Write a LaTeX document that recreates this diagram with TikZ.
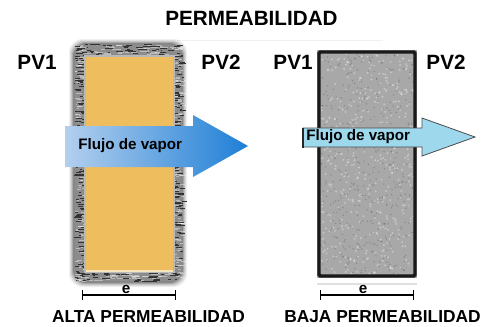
\documentclass[tikz,border=0pt]{standalone}
\usepackage{fontspec}
\setmainfont{Liberation Sans}
\usetikzlibrary{arrows.meta, positioning, calc}
\definecolor{slaborange}{HTML}{EEBE5E}
\definecolor{flowblue}{HTML}{1F7FD6}
\definecolor{flowlight}{HTML}{B3CFEE}
\definecolor{flowcyan}{HTML}{9ED8EC}
\definecolor{stonegray}{HTML}{A8A8A8}

\begin{document}
\begin{tikzpicture}[x=0.75pt, y=-0.75pt,
    bigtxt/.style={font=\bfseries\fontsize{15.5}{18}\selectfont, inner sep=0},
    subtxt/.style={font=\bfseries\fontsize{13}{15}\selectfont, inner sep=0},
    flowtxt/.style={font=\bfseries\fontsize{11.4}{13}\selectfont, inner sep=0},
    dimline/.style={line width=1.1pt, {Bar[width=7pt]}-{Bar[width=7pt]}}]
    \useasboundingbox (0,0) rectangle (484,326);
    \pgfmathsetseed{7}

    \node[bigtxt] (title) at (251.5,18) {PERMEABILIDAD};
    \draw[gray!12, line width=0.6pt] (177,40) -- (383,40);

    % left slab: fuzzy border and orange core
    \foreach \d/\o in {4/0.06, 3/0.08, 2/0.1, 1/0.14, 0/0.2}{
        \fill[black, opacity=\o, rounded corners=10] (73-\d,43-\d) rectangle (183+\d,283+\d);
    }
    \fill[black!45, rounded corners=8] (75,45) rectangle (181,281);
    \foreach \i in {1,...,130}{
        \draw[black!80, line width=0.6pt] ({74+9*rnd},{45+236*rnd}) -- ++({2+5*rnd},0);
        \draw[black!80, line width=0.6pt] ({172+9*rnd},{45+236*rnd}) -- ++({2+5*rnd},0);
        \draw[white, opacity=0.4, line width=0.5pt] ({75+9*rnd},{45+236*rnd}) -- ++({2+4*rnd},0);
        \draw[white, opacity=0.4, line width=0.5pt] ({173+8*rnd},{45+236*rnd}) -- ++({2+4*rnd},0);
    }
    \foreach \i in {1,...,45}{
        \draw[black!80, line width=0.6pt] ({76+100*rnd},{44+12*rnd}) -- ++({3+6*rnd},0);
        \draw[black!80, line width=0.6pt] ({76+100*rnd},{271+11*rnd}) -- ++({3+6*rnd},0);
        \draw[white, opacity=0.4, line width=0.5pt] ({76+100*rnd},{45+11*rnd}) -- ++({3+6*rnd},0);
        \draw[white, opacity=0.4, line width=0.5pt] ({76+100*rnd},{272+9*rnd}) -- ++({3+6*rnd},0);
    }
    \fill[gray!55] (84,55) rectangle (175,273);
    \fill[slaborange] (86,57) rectangle (173,271);
    \draw[white!60!slaborange, line width=0.8pt] (86,271) -- (173,271);

    % left flow arrow
    \shade[left color=flowlight, right color=flowblue]
        (65,126) -- (193,126) -- (193,115) -- (248,146) -- (193,177) -- (193,167) -- (65,167) -- cycle;
    \node[flowtxt, anchor=west] (flowA) at (78,146) {Flujo de vapor};

    \node[bigtxt] (pv1A) at (37,62) {PV1};
    \node[bigtxt] (pv2A) at (221,62) {PV2};

    \coordinate (eA1) at (82,295);
    \coordinate (eA2) at (176,295);
    \draw[dimline] (eA1) -- (eA2);
    \node[flowtxt, anchor=base] (eA) at (126,293) {e};
    \node[subtxt, anchor=base] (altaA) at (148.5,322) {ALTA PERMEABILIDAD};

    % right slab: stone texture and black frame
    \fill[stonegray] (317,50) rectangle (417,278);
    \foreach \i in {1,...,450}{
        \fill[white, opacity=0.35] ({320+94*rnd},{53+222*rnd}) circle (0.8pt);
        \fill[black, opacity=0.18] ({320+94*rnd},{53+222*rnd}) circle (0.6pt);
    }
    \draw[black!90, line width=2.6pt, rounded corners=1] (319,52) rectangle (415,276);
    \draw[gray!25, line width=0.8pt] (317,284) -- (417,284);

    % right flow arrow
    \fill[flowcyan, draw=black!70, line width=0.6pt]
        (303,128) -- (422,128) -- (422,118) -- (475,137) -- (422,156) -- (422,147) -- (303,147) -- cycle;
    \draw[black!85, line width=2pt] (303,127.5) -- (303,147.5);
    \node[flowtxt, anchor=west] (flowB) at (306,136.5) {Flujo de vapor};

    \node[bigtxt] (pv1B) at (293,62) {PV1};
    \node[bigtxt] (pv2B) at (446,62) {PV2};

    \coordinate (eB1) at (320,295);
    \coordinate (eB2) at (414,295);
    \draw[dimline] (eB1) -- (eB2);
    \node[flowtxt, anchor=base] (eB) at (363,293) {e};
    \node[subtxt, anchor=base] (bajaB) at (382.5,322) {BAJA PERMEABILIDAD};
\end{tikzpicture}
\end{document}
